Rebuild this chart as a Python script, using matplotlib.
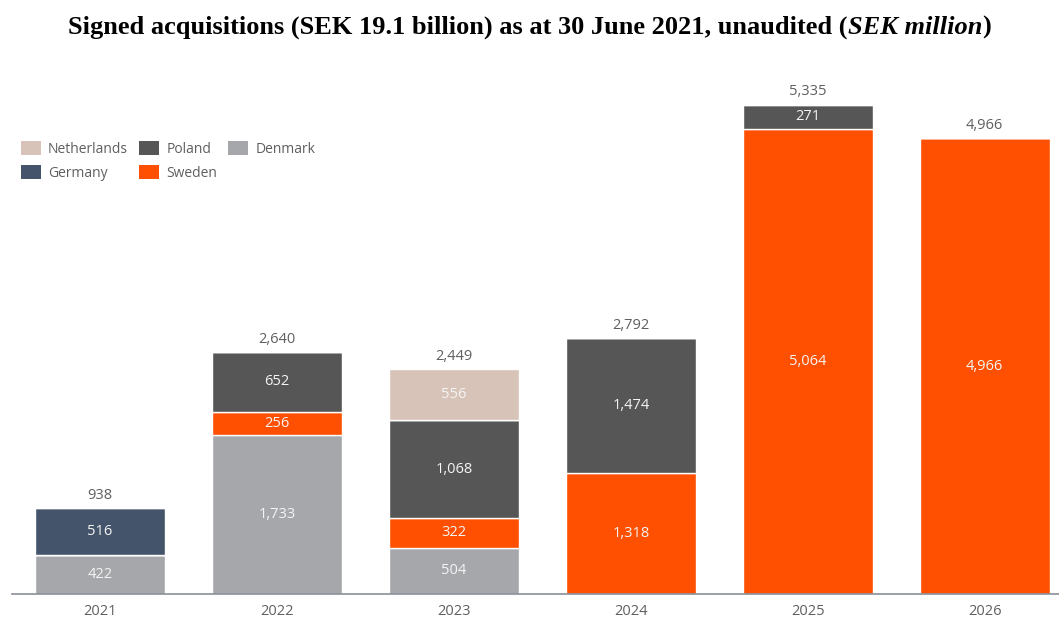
import matplotlib.pyplot as plt
from matplotlib.patches import Patch

years = ['2021', '2022', '2023', '2024', '2025', '2026']
denmark = [422, 1733, 504, 0, 0, 0]
sweden = [0, 256, 322, 1318, 5064, 4966]
poland = [0, 652, 1068, 1474, 271, 0]
germany = [516, 0, 0, 0, 0, 0]
netherlands = [0, 0, 556, 0, 0, 0]
totals = [938, 2640, 2449, 2792, 5335, 4966]

colors = {
    'Netherlands': '#d8c3b9',
    'Poland': '#565656',
    'Denmark': '#a5a7aa',
    'Germany': '#44546a',
    'Sweden': '#fe5000',
}

plt.rcParams['font.family'] = ['Open Sans', 'DejaVu Sans']

fig = plt.figure(figsize=(10.59, 6.17), dpi=100)
ax = fig.add_axes([11.5 / 1059, 23 / 617, 1 - 11.5 / 1059, 534 / 617])

x = list(range(len(years)))
width = 0.735
bottom = [0] * len(years)
for name, vals in [('Denmark', denmark), ('Sweden', sweden), ('Poland', poland),
                   ('Germany', germany), ('Netherlands', netherlands)]:
    ax.bar(x, vals, width, bottom=bottom, color=colors[name],
           edgecolor='white', linewidth=1.0)
    for i, v in enumerate(vals):
        if v > 0:
            ax.text(i, bottom[i] + v / 2, f'{v:,}', ha='center', va='center',
                    color='#f4f4f4', fontsize=10.5)
    bottom = [b + v for b, v in zip(bottom, vals)]

for i, t in enumerate(totals):
    ax.text(i, bottom[i] + 55, f'{t:,}', ha='center', va='bottom',
            color='#5f5f5f', fontsize=10.5)

ax.set_xlim(-0.5, 5.42)
ax.set_ylim(0, 5820)
ax.set_xticks(x)
ax.set_xticklabels(years, color='#5f5f5f', fontsize=10.5)
ax.tick_params(axis='x', length=0, pad=7)
ax.set_yticks([])
for side in ['top', 'right', 'left']:
    ax.spines[side].set_visible(False)
ax.spines['bottom'].set_color('#8a9099')
ax.spines['bottom'].set_linewidth(1.2)

order = ['Netherlands', 'Germany', 'Poland', 'Sweden', 'Denmark']
handles = [Patch(facecolor=colors[n], edgecolor='none') for n in order]
fig.legend(handles, order, ncol=3, loc='upper left',
           bbox_to_anchor=(0.008, 0.792), frameon=False, fontsize=10,
           handlelength=1.45, handleheight=1.2, handletextpad=0.5,
           columnspacing=0.8, labelspacing=0.6, labelcolor='#5f5f5f')

# title: bold serif with an italic unit part
serif = ['Liberation Serif', 'DejaVu Serif']
parts = [('Signed acquisitions (SEK 19.1 billion) as at 30 June 2021, unaudited (', 'normal'),
         ('SEK million', 'italic'),
         (')', 'normal')]
texts = [fig.text(0, 0.955, s, family=serif, weight='bold', style=st,
                  fontsize=19, va='center', ha='left') for s, st in parts]
renderer = fig.canvas.get_renderer()
widths = [t.get_window_extent(renderer).width for t in texts]
xpos = (1059 - sum(widths)) / 2
for t, w in zip(texts, widths):
    t.set_x(xpos / 1059)
    xpos += w

fig.savefig('out.png', dpi=100)
